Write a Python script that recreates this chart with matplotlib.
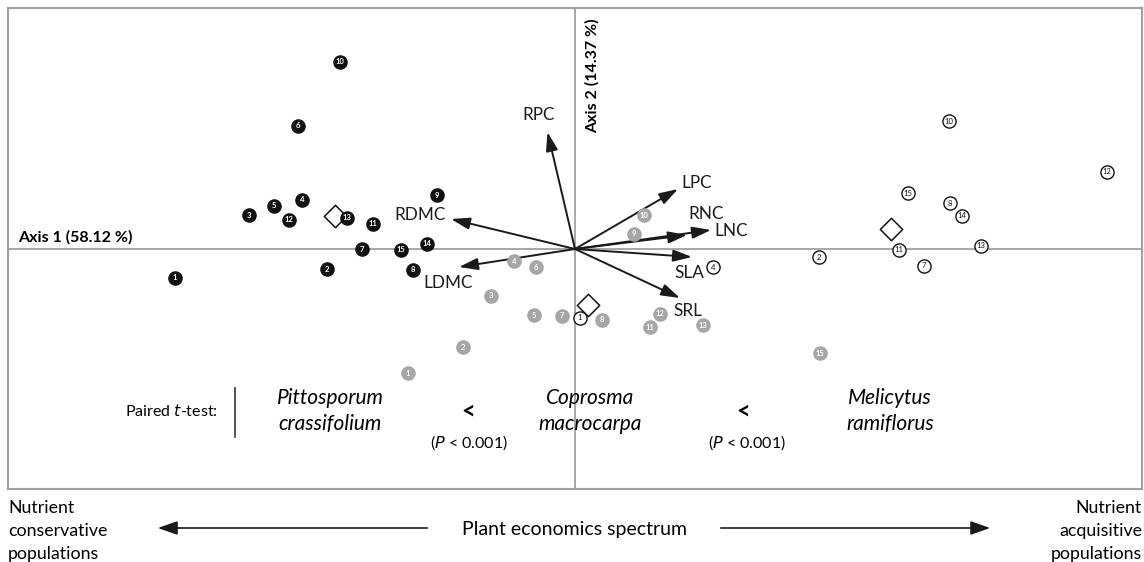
import numpy as np
import matplotlib.pyplot as plt
from matplotlib.patches import FancyArrowPatch

plt.rcParams['font.family'] = ['Lato', 'DejaVu Sans']

# PCA scores (axis 1, axis 2)
pitt_id = [1, 2, 3, 4, 5, 6, 7, 8, 9, 10, 11, 12, 13, 14, 15]
pitt_x = [-4.00, -2.48, -3.26, -2.73, -3.01, -2.77, -2.13, -1.62, -1.38, -2.35, -2.02, -2.86, -2.28, -1.48, -1.74]
pitt_y = [-0.29, -0.20, 0.34, 0.49, 0.43, 1.23, 0.00, -0.21, 0.54, 1.87, 0.25, 0.29, 0.31, 0.05, -0.01]

copr_id = [1, 2, 3, 4, 5, 6, 7, 8, 9, 10, 11, 12, 13, 15]
copr_x = [-1.67, -1.12, -0.84, -0.61, -0.41, -0.39, -0.13, 0.27, 0.59, 0.69, 0.75, 0.85, 1.28, 2.45]
copr_y = [-1.24, -0.98, -0.47, -0.12, -0.66, -0.18, -0.67, -0.71, 0.15, 0.34, -0.78, -0.65, -0.76, -1.04]

meli_id = [1, 2, 4, 7, 8, 10, 11, 12, 13, 14, 15]
meli_x = [0.05, 2.44, 1.38, 3.49, 3.75, 3.74, 3.24, 5.32, 4.06, 3.87, 3.33]
meli_y = [-0.69, -0.08, -0.18, -0.17, 0.46, 1.28, -0.01, 0.77, 0.03, 0.33, 0.56]

# species centroids
cent_x = [-2.40, 0.13, 3.16]
cent_y = [0.33, -0.56, 0.20]

# trait loadings
traits = ['RPC', 'RDMC', 'LDMC', 'LPC', 'RNC', 'LNC', 'SLA', 'SRL']
load_x = [-0.275, -1.24, -1.16, 1.03, 1.12, 1.36, 1.17, 1.05]
load_y = [1.17, 0.30, -0.18, 0.60, 0.14, 0.19, -0.08, -0.49]

# label placement for each trait
lab_pos = {'RPC': (-0.36, 1.34), 'RDMC': (-1.55, 0.34), 'LDMC': (-1.27, -0.34),
           'LPC': (1.22, 0.66), 'RNC': (1.31, 0.35), 'LNC': (1.56, 0.18),
           'SLA': (1.14, -0.24), 'SRL': (1.13, -0.62)}

grey = '#a6a6a6'
frame = '#a0a0a0'
ink = '#1a1a1a'

fig = plt.figure(figsize=(11.44, 5.62), dpi=100)
ax = fig.add_axes([8/1144, 73/562, 1134/1144, 481/562])
ax.set_xlim(-5.67, 5.67)
ax.set_ylim(-2.40, 2.41)
ax.set_xticks([])
ax.set_yticks([])
for s in ax.spines.values():
    s.set_color(frame)
    s.set_linewidth(1.5)

ax.axhline(0, color=frame, lw=1.3, zorder=1)
ax.axvline(0, color=frame, lw=1.3, zorder=1)

# arrows
for t, lx, ly in zip(traits, load_x, load_y):
    ax.annotate('', xy=(lx, ly), xytext=(0, 0),
                arrowprops=dict(arrowstyle='-|>,head_length=0.95,head_width=0.3',
                                mutation_scale=12, color=ink, lw=1.4,
                                shrinkA=0, shrinkB=0),
                zorder=3)
    px, py = lab_pos[t]
    ax.text(px, py, t, ha='center', va='center', fontsize=12.3, color=ink, zorder=4)

# centroids underneath the numbered points
ax.scatter(cent_x, cent_y, s=130, marker='D', c='white', edgecolors='#111111',
           linewidths=1.1, zorder=4)

ms = 90
fs = 5.5
ax.scatter(pitt_x, pitt_y, s=ms, c='#111111', edgecolors='#111111', zorder=5)
for i, x, y in zip(pitt_id, pitt_x, pitt_y):
    ax.text(x, y, str(i), ha='center', va='center', fontsize=fs, color='white',
            fontweight='bold', zorder=6)

ax.scatter(copr_x, copr_y, s=ms, c=grey, edgecolors=grey, zorder=5)
for i, x, y in zip(copr_id, copr_x, copr_y):
    ax.text(x, y, str(i), ha='center', va='center', fontsize=fs, color='white',
            fontweight='bold', zorder=6)

ax.scatter(meli_x, meli_y, s=ms, c='white', edgecolors='#111111', linewidths=1.0, zorder=5)
for i, x, y in zip(meli_id, meli_x, meli_y):
    ax.text(x, y, str(i), ha='center', va='center', fontsize=fs, color='#111111', zorder=6)

# axis titles
ax.text(-5.57, 0.12, 'Axis 1 (58.12 %)', fontsize=11.5, fontweight='bold', ha='left', va='center')
ax.text(0.17, 2.31, 'Axis 2 (14.37 %)', fontsize=11.5, fontweight='bold', rotation=90,
        ha='center', va='top')

# paired t-test annotation
ax.text(-3.57, -1.62, 'Paired $\\it{t}$-test:', fontsize=11.5, ha='right', va='center')
ax.plot([-3.40, -3.40], [-1.39, -1.88], color='#333333', lw=1.2)
sp_fs = 15
ax.text(-2.45, -1.62, 'Pittosporum\ncrassifolium', fontsize=sp_fs, style='italic',
        ha='center', va='center', linespacing=1.35)
ax.text(0.15, -1.62, 'Coprosma\nmacrocarpa', fontsize=sp_fs, style='italic',
        ha='center', va='center', linespacing=1.35)
ax.text(3.15, -1.62, 'Melicytus\nramiflorus', fontsize=sp_fs, style='italic',
        ha='center', va='center', linespacing=1.35)
ax.text(-1.07, -1.62, '<', fontsize=17, fontweight='bold', ha='center', va='center')
ax.text(1.68, -1.62, '<', fontsize=17, fontweight='bold', ha='center', va='center')
ax.text(-1.06, -1.94, '($\\it{P}$ < 0.001)', fontsize=11.5, ha='center', va='center')
ax.text(1.72, -1.94, '($\\it{P}$ < 0.001)', fontsize=11.5, ha='center', va='center')

# spectrum below the plot
yt = 1 - 531/562
fig.text(8/1144, yt, 'Nutrient\nconservative\npopulations', fontsize=12.8,
         ha='left', va='center', linespacing=1.55)
fig.text(1142/1144, yt, 'Nutrient\nacquisitive\npopulations', fontsize=12.8,
         ha='right', va='center', linespacing=1.55, multialignment='right')
fig.text(575/1144, 1 - 529/562, 'Plant economics spectrum', fontsize=14,
         ha='center', va='center')
ya = 1 - 528/562
for start, end in [((430/1144, ya), (155/1144, ya)), ((718/1144, ya), (993/1144, ya))]:
    fig.add_artist(FancyArrowPatch(start, end, transform=fig.transFigure,
                                   arrowstyle='-|>,head_length=1.0,head_width=0.35',
                                   color=ink, lw=1.2, mutation_scale=12))

fig.savefig('out.png', dpi=100)
